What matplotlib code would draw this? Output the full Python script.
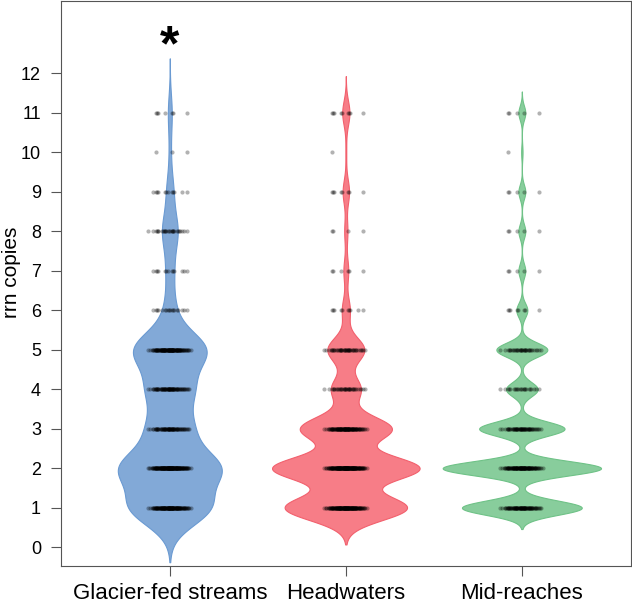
import numpy as np
import matplotlib.pyplot as plt

plt.rcParams['font.family'] = ['Liberation Sans', 'DejaVu Sans']

# rrn copy numbers and how many taxa sit at each value, per habitat
copies = [1, 2, 3, 4, 5, 6, 7, 8, 9, 10, 11]
glacier_counts = [138, 172, 74, 77, 127, 18, 13, 27, 12, 3, 7]
headwater_counts = [152, 183, 114, 37, 46, 10, 6, 4, 8, 1, 9]
midreach_counts = [87, 115, 62, 23, 37, 8, 5, 5, 5, 1, 5]

groups = ["Glacier-fed streams", "Headwaters", "Mid-reaches"]
all_counts = [glacier_counts, headwater_counts, midreach_counts]
bandwidths = [0.46, 0.31, 0.18]
fills = ["#82A9D7", "#F77D87", "#88CD9C"]
edges = ["#6A9AD2", "#F2606D", "#6FC287"]
yticks = list(range(0, 13))


def count_density(values, counts, bw):
    # gaussian kde weighted by counts, cut at 3 bandwidths
    v = np.repeat(values, counts).astype(float)
    y = np.linspace(v.min() - 3 * bw, v.max() + 3 * bw, 600)
    d = np.exp(-0.5 * ((y[:, None] - v[None, :]) / bw) ** 2).sum(axis=1)
    d = d / (np.sqrt(2 * np.pi) * bw)
    return y, d


def jitter(n, amount=0.13):
    # deterministic triangular spread (two low-discrepancy sequences)
    i = np.arange(n)
    u1 = (i * 0.6180339887 + 0.3) % 1.0
    u2 = (i * 0.7320508076 + 0.1) % 1.0
    return (u1 + u2 - 1.0) * amount


fig = plt.figure(figsize=(6.32, 6.03), dpi=100)
ax = fig.add_axes([0.096, 0.062, 0.9024, 0.9363])

dens = [count_density(copies, c, bw) for c, bw in zip(all_counts, bandwidths)]
scale = 0.45 / max(d.max() for _, d in dens)

for i, (y, d) in enumerate(dens):
    pos = i + 1
    ax.fill_betweenx(y, pos - d * scale, pos + d * scale, facecolor=fills[i],
                     edgecolor=edges[i], linewidth=0.8, zorder=2)
    for v, n in zip(copies, all_counts[i]):
        ax.scatter(pos + jitter(n), np.full(n, v), s=9, color="black",
                   alpha=0.3, linewidths=0, zorder=3)

ax.text(1, 12.67, "*", ha="center", va="center", fontsize=36,
        fontweight="bold")

ax.set_xlim(0.38, 3.62)
ax.set_ylim(-0.466, 13.83)
ax.set_xticks([1, 2, 3])
ax.set_xticklabels(groups, fontsize=16)
ax.set_yticks(yticks)
ax.set_yticklabels([str(t) for t in yticks], fontsize=13)
ax.set_ylabel("rrn copies", fontsize=15)
ax.yaxis.set_label_coords(-0.069, 0.52)
ax.tick_params(length=7.2, width=0.8, color="#555555")
ax.tick_params(axis="y", pad=7)
ax.tick_params(axis="x", pad=5)
for s in ax.spines.values():
    s.set_color("#555555")
    s.set_linewidth(0.8)

fig.savefig("out.png", dpi=100)
